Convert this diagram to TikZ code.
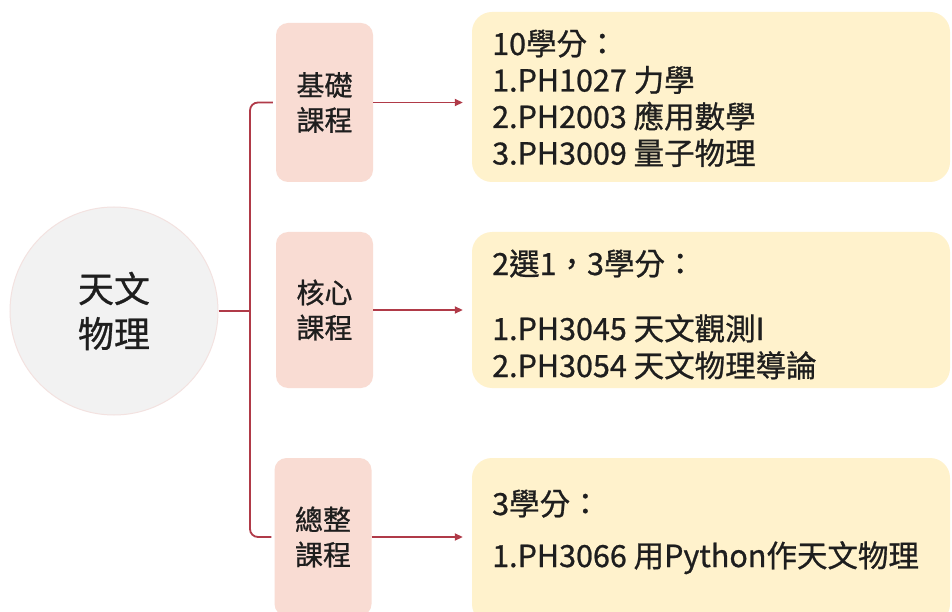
\documentclass[tikz,border=0pt]{standalone}
\usepackage{fontspec}
\setmainfont{Noto Sans CJK TC}[AutoFakeBold=0.8]
\usetikzlibrary{arrows.meta}
\definecolor{linec}{HTML}{B03A48}
\definecolor{circfill}{HTML}{F2F2F2}
\definecolor{circdraw}{HTML}{F3E2E0}
\definecolor{pinkfill}{HTML}{F9DCD3}
\definecolor{yelfill}{HTML}{FFF2CC}
\definecolor{txtc}{HTML}{1E1E1E}
\begin{document}
\begin{tikzpicture}[x=1pt,y=-1pt,
  cat/.style={rectangle, rounded corners=12pt, fill=pinkfill, minimum width=97pt, inner sep=0pt, align=center, text=txtc, font=\bfseries\fontsize{28}{35}\selectfont},
  ybox/.style={rectangle, rounded corners=20pt, fill=yelfill, minimum width=478pt, inner sep=0pt},
  txt/.style={anchor=base west, inner sep=0pt, text=txtc, font=\bfseries\fontsize{30.5}{36}\selectfont},
  conn/.style={draw=linec, line width=1.8pt},
  arr/.style={draw=linec, line width=1.8pt, shorten >=9pt, -{Triangle[length=8pt,width=7pt]}}
]
\useasboundingbox (0,0) rectangle (952,612);
\fill[white] (0,0) rectangle (952,612);

% centre circle
\node[circle, fill=circfill, draw=circdraw, line width=1pt, minimum size=208pt, inner sep=0pt, align=center, text=txtc, font=\bfseries\fontsize{36}{45}\selectfont] (c) at (114,311) {天文\\物理};

% category boxes
\node[cat, minimum height=159pt] (b1) at (324.5,102.5) {基礎\\課程};
\node[cat, minimum height=156pt] (b2) at (324.5,310) {核心\\課程};
\node[cat, minimum height=158pt] (b3) at (323,537) {總整\\課程};

% detail boxes
\node[ybox, minimum height=170pt] (y1) at (711,97) {};
\node[ybox, minimum height=156pt] (y2) at (711,310) {};
\node[ybox, minimum height=166pt] (y3) at (711,541) {};

% texts
\node[txt] (t11) at (492,55) {10學分：};
\node[txt] (t12) at (492,91.5) {1.PH1027 力學};
\node[txt] (t13) at (492,128) {2.PH2003 應用數學};
\node[txt] (t14) at (492,164.5) {3.PH3009 量子物理};

\node[txt] (t21) at (492,275) {2選1，3學分：};
\node[txt] (t22) at (492,340) {1.PH3045 天文觀測I};
\node[txt] (t23) at (492,377) {2.PH3054 天文物理導論};

\node[txt] (t31) at (492,515) {3學分：};
\node[txt] (t32) at (492,567) {1.PH3066 用Python作天文物理};

% connectors
\coordinate (j) at (250,311);
\draw[conn] (c.east) -- (j);
\draw[conn, rounded corners=8pt] ([xshift=-3pt]b1.west) -| (j) |- ([xshift=-3pt]b3.west);

\draw[arr] (b1.east) -- (b1.east -| y1.west);
\draw[arr] (b2.east) -- (b2.east -| y2.west);
\draw[arr] (b3.east) -- (b3.east -| y3.west);
\end{tikzpicture}
\end{document}
